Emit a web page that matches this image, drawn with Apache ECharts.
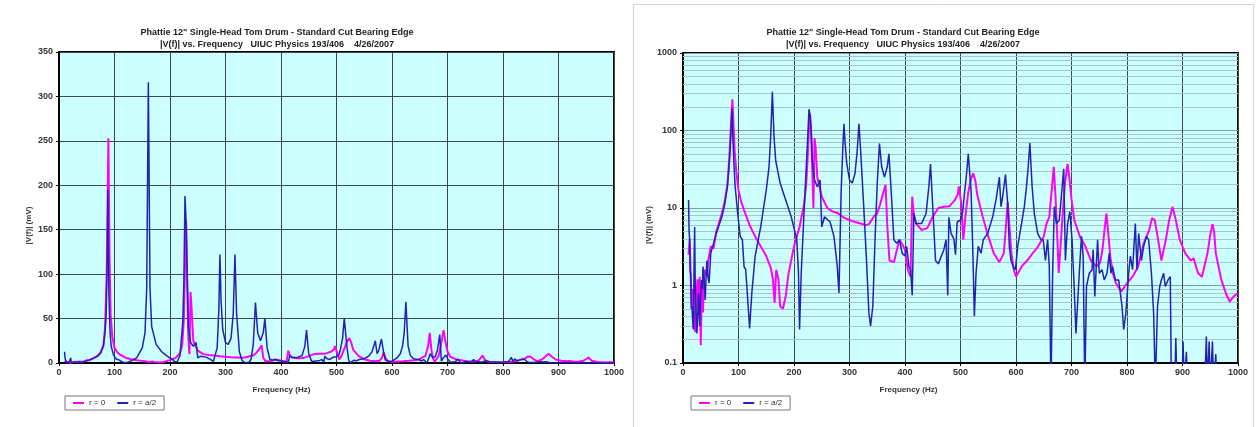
<!DOCTYPE html>
<html>
<head>
<meta charset="utf-8">
<title>Tom drum |V(f)|</title>
<script src="https://cdn.jsdelivr.net/npm/echarts@6/dist/echarts.min.js"></script>
<style>
  body { margin: 0; background: #fff; }
  #main { width: 1257px; height: 427px; }
</style>
</head>
<body>
<div id="main"></div>
<script type="text/javascript">
// r = 0 (magenta)
var r0Freq = [10, 12, 14, 16, 18, 20, 22, 24, 26, 28, 30, 32, 34, 36, 38, 40, 43, 46, 50, 55,
  60, 65, 70, 75, 80, 83, 86, 89, 91, 93, 96, 100, 105, 110, 120, 130, 140, 150, 158, 162,
  165, 168, 172, 175, 180, 185, 190, 200, 210, 218, 222, 225, 227, 229, 231, 233, 235, 237, 239, 242,
  250, 260, 270, 280, 290, 300, 310, 320, 330, 335, 340, 345, 350, 355, 360, 365, 368, 372, 380, 385,
  390, 395, 400, 405, 410, 413, 416, 420, 430, 440, 450, 460, 470, 480, 490, 495, 497, 501, 505, 509,
  514, 519, 523, 527, 530, 540, 550, 560, 570, 578, 582, 585, 588, 592, 596, 600, 610, 620, 630, 640,
  650, 655, 660, 665, 668, 671, 674, 677, 680, 684, 688, 691, 693, 696, 700, 705, 715, 725, 735, 745,
  752, 756, 760, 763, 766, 770, 775, 780, 790, 800, 810, 820, 830, 840, 845, 850, 856, 862, 870, 876,
  882, 888, 895, 905, 915, 920, 928, 935, 945, 950, 954, 957, 960, 970, 978, 985, 992, 1000];
var r0Mag = [2.5, 4.0, 1.2, 0.5, 0.9, 0.4, 0.25, 0.6, 1.2, 0.5, 1.3, 0.17, 1.0, 0.45, 1.4, 1.6, 1.3, 2.2, 3.2, 3.0,
  5, 6.5, 8.5, 12, 20, 40, 100, 253, 120, 55, 30, 17, 12, 9.4, 6, 4.3, 3.2, 2.4, 1.7, 1.2,
  0.6, 1.6, 1.2, 0.54, 0.5, 0.72, 1.4, 3.2, 5.7, 11, 20, 50, 110, 160, 90, 30, 10, 80, 60, 25,
  14, 10, 9, 8.5, 7.5, 7, 6.6, 6.3, 6, 6.2, 7, 8, 8.5, 11, 15, 20, 6, 2.1, 2.0, 2.8,
  3.9, 3.4, 2.9, 1.6, 1.3, 14, 8, 6.3, 5.2, 5.5, 7.7, 10, 10.4, 10.5, 12.7, 15, 19, 12, 3.9, 8,
  16, 24, 28, 22, 15, 7.7, 4.3, 2.6, 2.0, 2.6, 6, 12, 6, 2.5, 1.6, 1.3, 1.75, 2.1, 2.6, 3.2,
  4.3, 6.3, 7.7, 19, 34, 15, 5, 1.45, 3, 8, 20, 30, 37, 25, 13, 7, 4.3, 3.2, 2.1, 1.75,
  2, 3, 5.7, 8.5, 5, 2.3, 1.4, 1.07, 0.84, 1.07, 1.3, 1.75, 3.5, 5.2, 7.4, 7, 3.9, 2.1, 3.9, 7,
  10.4, 7, 3.9, 2.6, 2.1, 2.25, 1.44, 1.3, 2.6, 4.5, 6.2, 5, 2.6, 1.18, 0.8, 0.62, 0.72, 0.8];

// r = a/2 (blue); 0.05 = below the 0.1 floor of the log plot
var halfFreq = [10, 11, 12, 13, 14, 15, 16, 18, 19, 20, 21, 22, 23, 25, 27, 28, 30, 32, 33, 35,
  36, 38, 40, 42, 43, 45, 47, 50, 55, 60, 65, 70, 75, 80, 83, 85, 87, 88, 89, 90,
  92, 94, 98, 103, 107, 110, 113, 117, 120, 124, 130, 140, 150, 155, 158, 161, 164, 167, 175, 185,
  195, 200, 205, 208, 210, 213, 218, 223, 225, 227, 229, 231, 233, 237, 242, 247, 250, 255, 265, 272,
  278, 281, 285, 288, 290, 292, 295, 300, 305, 310, 314, 317, 320, 325, 330, 335, 338, 342, 346, 350,
  354, 358, 363, 368, 371, 375, 380, 385, 390, 395, 400, 403, 407, 410, 413, 416, 420, 430, 438, 443,
  446, 450, 455, 460, 470, 474, 477, 479, 483, 488, 491, 494, 500, 504, 507, 511, 514, 519, 522, 525,
  528, 532, 537, 541, 549, 558, 564, 570, 573, 576, 581, 585, 588, 591, 595, 599, 603, 609, 615, 619,
  622, 625, 629, 633, 639, 645, 649, 653, 657, 660, 663, 666, 669, 673, 678, 682, 686, 689, 693, 697,
  701, 705, 708, 714, 718, 721, 724, 727, 732, 737, 739, 742, 747, 750, 755, 759, 764, 768, 771, 774,
  779, 785, 791, 794, 798, 803, 806, 810, 815, 818, 821, 826, 830, 835, 839, 844, 848, 851, 855, 859,
  862, 866, 869, 874, 878, 880, 886, 888, 890, 899, 901, 903, 905, 907, 909, 940, 943, 945, 948, 950,
  954, 956, 958, 960, 962, 1000];
var halfMag = [12.7, 5, 3.9, 1.5, 1.4, 0.5, 0.54, 0.3, 0.27, 2, 5.7, 1, 0.54, 0.24, 0.5, 0.8, 0.3, 0.8, 1.18, 0.9,
  1.75, 1.2, 0.65, 1.5, 2.1, 1.3, 1.07, 2.6, 3.5, 4.7, 6, 7.7, 11, 18.8, 35, 56, 120, 195, 140, 75,
  35, 18.8, 9.4, 4.3, 3.9, 1.75, 1.6, 0.6, 0.28, 0.8, 2.4, 5.7, 17, 34, 83, 316, 83, 41, 21, 12.7,
  7.7, 5.5, 3.9, 1.5, 0.27, 1.44, 8.5, 46, 90, 188, 160, 100, 41, 23, 18.8, 23, 5.7, 7.7, 6.6, 4.3,
  1.75, 0.8, 17, 60, 122, 70, 38, 23, 21, 28, 56, 122, 56, 12.7, 2.6, 0.44, 0.3, 0.54, 3.9, 21,
  68, 34, 25, 34, 50, 17, 3.9, 3.5, 3.9, 2.6, 2.4, 3.2, 1.75, 1.6, 0.75, 8.5, 6.3, 6.3, 8.5, 19,
  37, 10.4, 2.1, 1.9, 2.9, 3.9, 0.75, 7.6, 4.7, 4.0, 2.5, 6.6, 7, 9, 15, 28, 50, 17, 3.2, 0.4,
  1.44, 3.2, 2.6, 3.9, 4.7, 7.7, 12.7, 25, 10.4, 14, 27, 11.5, 3.2, 2.1, 1.75, 1.6, 3.2, 5.7, 10.4, 19,
  34, 69, 19, 8.5, 4.7, 3.9, 3.9, 2.1, 3.9, 1.75, 0.05, 1.44, 10.4, 6.3, 7, 15, 32, 2.1, 6.3, 9,
  3.9, 0.88, 0.24, 1.44, 4.3, 2.4, 0.05, 0.97, 1.44, 1.6, 2.9, 0.72, 3.9, 1.44, 1.6, 1.18, 1.44, 2.6, 1.44, 1.75,
  1.18, 1.18, 0.54, 0.27, 0.44, 1.44, 2.4, 1.6, 6.3, 1.6, 4.7, 2.1, 3.2, 4.3, 3.9, 1.44, 0.44, 0.05, 0.54, 0.97,
  1.18, 1.44, 0.97, 1.18, 1.3, 0.05, 0.05, 0.21, 0.05, 0.05, 0.19, 0.05, 0.05, 0.14, 0.05, 0.05, 0.22, 0.05, 0.19, 0.05,
  0.19, 0.05, 0.05, 0.13, 0.05, 0.05];

// minor grid values of the log plot
var logMinor = [0.2, 0.3, 0.4, 0.5, 0.6, 0.7, 0.8, 0.9, 2, 3, 4, 5, 6, 7, 8, 9,
  20, 30, 40, 50, 60, 70, 80, 90, 200, 300, 400, 500, 600, 700, 800, 900];

var titleText = 'Phattie 12" Single-Head Tom Drum - Standard Cut Bearing Edge\n' +
  '|V(f)| vs. Frequency   UIUC Physics 193/406    4/26/2007';

var FONT = "'Liberation Sans', Arial, sans-serif";
var PINK = '#ff00ff';
var BLUE = '#2222b4';

function pairs(xs, ys) {
  return xs.map(function (x, i) { return [x, ys[i]]; });
}

// plain numbers, no thousands separator
function plain(v) { return String(+v.toPrecision(6)); }

var lbl = { fontFamily: FONT, fontSize: 9, fontWeight: 'bold', color: '#333', formatter: plain };

function xAxisFor(idx, shift) {
  return {
    type: 'value', gridIndex: idx, min: 0, max: 1000, interval: 100,
    name: 'Frequency (Hz)', nameLocation: 'middle', nameGap: 23,
    nameTextStyle: { fontFamily: FONT, fontSize: 8, fontWeight: 'bold', color: '#333', padding: [0, shift, 0, 0] },
    axisLine: { show: true, lineStyle: { color: '#000', width: 2 } },
    axisTick: { show: true, length: 3, lineStyle: { color: '#000' } },
    axisLabel: Object.assign({ margin: 5 }, lbl),
    splitLine: { show: true, lineStyle: { color: '#3d4a4a', width: 1 } }
  };
}

var chart = echarts.init(document.getElementById('main'));

var option = {
  animation: false,
  backgroundColor: '#fff',
  title: [{
    text: titleText, left: 272, top: 22, textAlign: 'center',
    textStyle: { fontFamily: FONT, fontSize: 9, fontWeight: 'bold', color: '#222', lineHeight: 12 }
  }, {
    text: titleText, left: 898, top: 22, textAlign: 'center',
    textStyle: { fontFamily: FONT, fontSize: 9, fontWeight: 'bold', color: '#222', lineHeight: 12 }
  }],
  legend: [{
    left: 65, top: 396, orient: 'horizontal',
    data: ['r = 0', 'r = a/2'],
    icon: 'rect', itemWidth: 11, itemHeight: 2, itemGap: 12,
    padding: [3, 8, 3, 8], borderColor: '#777', borderWidth: 1,
    textStyle: { fontFamily: FONT, fontSize: 8, color: '#333' }
  }, {
    left: 691, top: 396, orient: 'horizontal',
    data: ['r = 0', 'r = a/2'],
    icon: 'rect', itemWidth: 11, itemHeight: 2, itemGap: 12,
    padding: [3, 8, 3, 8], borderColor: '#777', borderWidth: 1,
    textStyle: { fontFamily: FONT, fontSize: 8, color: '#333' }
  }],
  graphic: [{
    type: 'rect', shape: { x: 633.5, y: 4.5, width: 620, height: 430 },
    style: { fill: 'none', stroke: '#d4d4d4', lineWidth: 1 }, silent: true, z: -1
  }],
  grid: [{
    left: 59, top: 52, width: 555, height: 311,
    show: true, backgroundColor: '#ccffff', borderColor: '#000', borderWidth: 2
  }, {
    left: 683, top: 53, width: 555, height: 310,
    show: true, backgroundColor: '#ccffff', borderColor: '#000', borderWidth: 2
  }],
  xAxis: [xAxisFor(0, 110), xAxisFor(1, 104)],
  yAxis: [{
    type: 'value', gridIndex: 0, min: 0, max: 350, interval: 50,
    name: '|V(f)| (mV)', nameLocation: 'middle', nameGap: 26,
    nameTextStyle: { fontFamily: FONT, fontSize: 8, fontWeight: 'bold', color: '#333', padding: [0, 36, 0, 0] },
    axisLine: { show: true, lineStyle: { color: '#000', width: 2 } },
    axisTick: { show: true, length: 3, lineStyle: { color: '#000' } },
    axisLabel: Object.assign({ margin: 6 }, lbl),
    splitLine: { show: true, lineStyle: { color: '#3d4a4a', width: 1 } }
  }, {
    type: 'log', gridIndex: 1, logBase: 10, min: 0.1, max: 1000,
    name: '|V(f)| (mV)', nameLocation: 'middle', nameGap: 22,
    nameTextStyle: { fontFamily: FONT, fontSize: 8, fontWeight: 'bold', color: '#333', padding: [0, 34, 0, 0] },
    axisLine: { show: true, lineStyle: { color: '#000', width: 2 } },
    axisTick: { show: true, length: 3, lineStyle: { color: '#000' } },
    axisLabel: Object.assign({ margin: 6 }, lbl),
    splitLine: { show: true, lineStyle: { color: '#7f9ea4', width: 1 } }
  }],
  series: [{
    name: 'r = 0', type: 'line', xAxisIndex: 0, yAxisIndex: 0,
    data: pairs(r0Freq, r0Mag), showSymbol: false, silent: true,
    lineStyle: { color: PINK, width: 2 }, itemStyle: { color: PINK }
  }, {
    name: 'r = a/2', type: 'line', xAxisIndex: 0, yAxisIndex: 0,
    data: pairs(halfFreq, halfMag), showSymbol: false, silent: true,
    lineStyle: { color: BLUE, width: 1.5 }, itemStyle: { color: BLUE }
  }, {
    name: 'r = 0', type: 'line', xAxisIndex: 1, yAxisIndex: 1,
    data: pairs(r0Freq, r0Mag), showSymbol: false, silent: true,
    lineStyle: { color: PINK, width: 2 }, itemStyle: { color: PINK },
    markLine: {
      silent: true, symbol: ['none', 'none'], z: 1, animation: false,
      label: { show: false },
      lineStyle: { color: '#a6c6cc', width: 1, type: 'solid' },
      emphasis: { disabled: true },
      data: logMinor.map(function (v) { return { yAxis: v }; })
    }
  }, {
    name: 'r = a/2', type: 'line', xAxisIndex: 1, yAxisIndex: 1,
    data: pairs(halfFreq, halfMag), showSymbol: false, silent: true,
    lineStyle: { color: BLUE, width: 1.5 }, itemStyle: { color: BLUE }
  }]
};

chart.setOption(option);
</script>
</body>
</html>
